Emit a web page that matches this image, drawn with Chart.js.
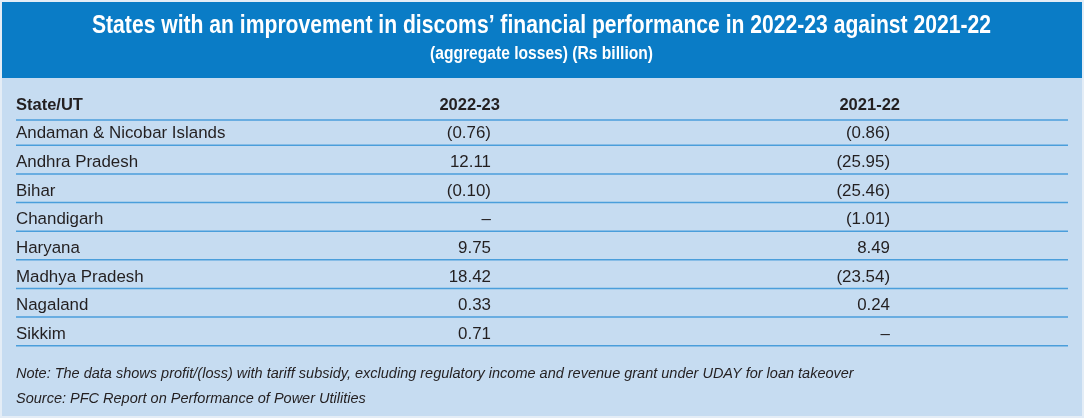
<!DOCTYPE html>
<html>
<head>
<meta charset="utf-8">
<script src="https://cdn.jsdelivr.net/npm/chart.js@4.4.1/dist/chart.umd.min.js"></script>
<style>
html,body{margin:0;padding:0;background:#e4edf6;}
#wrap{position:relative;width:1084px;height:418px;overflow:hidden;}
canvas{display:block;}
</style>
</head>
<body>
<div id="wrap"><canvas id="c" width="1084" height="418"></canvas></div>
<script>
// ---- data ----
const titleText = 'States with an improvement in discoms\u2019 financial performance in 2022-23 against 2021-22';
const subtitleText = '(aggregate losses) (Rs billion)';
const columnLabels = ['State/UT', '2022-23', '2021-22'];
const states = ['Andaman & Nicobar Islands', 'Andhra Pradesh', 'Bihar', 'Chandigarh', 'Haryana', 'Madhya Pradesh', 'Nagaland', 'Sikkim'];
const values2223 = [-0.76, 12.11, -0.10, null, 9.75, 18.42, 0.33, 0.71];
const values2122 = [-0.86, -25.95, -25.46, -1.01, 8.49, -23.54, 0.24, null];
const noteText = 'Note: The data shows profit/(loss) with tariff subsidy, excluding regulatory income and revenue grant under UDAY for loan takeover';
const sourceText = 'Source: PFC Report on Performance of Power Utilities';

function fmt(v) {
  if (v === null || v === undefined) return '\u2013';
  return v < 0 ? '(' + Math.abs(v).toFixed(2) + ')' : v.toFixed(2);
}

const SANS = '"Liberation Sans", Arial, Helvetica, sans-serif';
const NARROW = '"Liberation Sans Narrow", "Liberation Sans", Arial, sans-serif';
const TEXT = '#231f20';

function fitText(ctx, text, font, cx, baseline, width) {
  ctx.font = font;
  const w = ctx.measureText(text).width;
  ctx.save();
  ctx.translate(cx, baseline);
  ctx.scale(width / w, 1);
  ctx.textAlign = 'center';
  ctx.textBaseline = 'alphabetic';
  ctx.fillText(text, 0, 0);
  ctx.restore();
}

const tablePlugin = {
  id: 'tablePlugin',
  beforeDraw(chart) {
    const ctx = chart.ctx;
    ctx.save();
    ctx.fillStyle = '#e4edf6';
    ctx.fillRect(0, 0, chart.width, chart.height);
    ctx.fillStyle = '#c6dcf1';
    ctx.fillRect(2, 2, 1080, 414);
    ctx.fillStyle = '#0a7cc6';
    ctx.fillRect(2, 2, 1080, 76);
    ctx.fillStyle = '#ffffff';
    fitText(ctx, titleText, 'bold 26px ' + NARROW, 541.5, 33, 899);
    fitText(ctx, subtitleText, 'bold 18px ' + NARROW, 541.5, 58.5, 223);
    ctx.restore();
  },
  afterDraw(chart) {
    const ctx = chart.ctx;
    const ca = chart.chartArea;
    const ys = chart.scales.y;
    const W = ca.right - ca.left;
    const col1Right = ca.left + 0.4515 * W;
    const col2Right = ca.left + 0.8308 * W;
    const band = ys.getPixelForValue(1) - ys.getPixelForValue(0);
    ctx.save();
    // header
    ctx.fillStyle = TEXT;
    ctx.textBaseline = 'alphabetic';
    ctx.font = 'bold 16.5px ' + SANS;
    ctx.textAlign = 'left';
    ctx.fillText(columnLabels[0], ca.left, 109.5);
    ctx.textAlign = 'right';
    ctx.fillText(columnLabels[1], col1Right + 9, 109.5);
    ctx.fillText(columnLabels[2], col2Right + 10, 109.5);
    // rules
    ctx.strokeStyle = '#4a9edb';
    ctx.lineWidth = 1.5;
    const rule = (y) => { ctx.beginPath(); ctx.moveTo(ca.left, y); ctx.lineTo(ca.right, y); ctx.stroke(); };
    rule(120);
    states.forEach((s, i) => rule(ys.getPixelForValue(i) + band / 2));
    // rows
    ctx.font = '16.9px ' + SANS;
    states.forEach((s, i) => {
      const y = ys.getPixelForValue(i) + 7.5;
      ctx.textAlign = 'left';
      ctx.fillText(s, ca.left, y);
      ctx.textAlign = 'right';
      ctx.fillText(fmt(chart.data.datasets[0].data[i]), col1Right, y);
      ctx.fillText(fmt(chart.data.datasets[1].data[i]), col2Right, y);
    });
    // notes
    ctx.textAlign = 'left';
    ctx.font = 'italic 14.5px ' + SANS;
    ctx.fillText(noteText, ca.left, 378);
    ctx.fillText(sourceText, ca.left, 403);
    ctx.restore();
  }
};

new Chart(document.getElementById('c'), {
  type: 'bar',
  data: {
    labels: states,
    datasets: [
      { label: columnLabels[1], data: values2223, backgroundColor: 'rgba(0,0,0,0)', borderWidth: 0 },
      { label: columnLabels[2], data: values2122, backgroundColor: 'rgba(0,0,0,0)', borderWidth: 0 }
    ]
  },
  options: {
    indexAxis: 'y',
    responsive: false,
    animation: false,
    events: [],
    layout: { padding: { left: 16, right: 16, top: 116.6, bottom: 72.3 } },
    plugins: { legend: { display: false }, title: { display: false }, tooltip: { enabled: false } },
    scales: {
      x: { display: false },
      y: { type: 'category', display: false, offset: true, grid: { display: false } }
    }
  },
  plugins: [tablePlugin]
});
</script>
</body>
</html>
